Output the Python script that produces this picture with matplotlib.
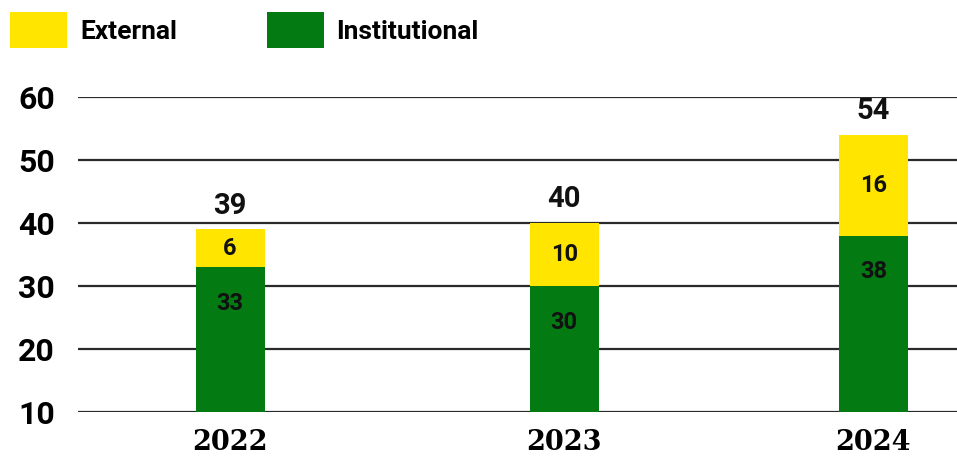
import matplotlib
matplotlib.use("Agg")
import matplotlib.pyplot as plt
from matplotlib.patches import Patch

years = ["2022", "2023", "2024"]
institutional = [33, 30, 38]
external = [6, 10, 16]
totals = [39, 40, 54]
yticks = [10, 20, 30, 40, 50, 60]

GREEN = "#037A12"
YELLOW = "#FFE500"

fig = plt.figure(figsize=(9.57, 4.59), dpi=100)
ax = fig.add_axes([0.0815, 0.1024, 0.9185, 0.6863])

# slightly uneven category spacing as in the reference layout
x = [0, 1.039, 2]
w = 0.215
ax.bar(x, institutional, width=w, color=GREEN, zorder=3)
ax.bar(x, external, width=w, bottom=institutional, color=YELLOW, zorder=3)

ax.set_ylim(10, 60)
ax.set_xlim(-0.473, 2.26)
ax.set_yticks(yticks)
ax.set_yticklabels([str(t) for t in yticks], fontfamily="Roboto", fontweight="bold", fontsize=23)
ax.set_xticks(x)
ax.set_xticklabels(years, fontfamily="DejaVu Serif", fontweight="bold", fontsize=19.5)
ax.tick_params(axis="both", length=0)
ax.tick_params(axis="y", pad=16.5)
ax.tick_params(axis="x", pad=12)
ax.yaxis.grid(True, color="#2a2a2a", linewidth=1.6, zorder=1)
for s in ax.spines.values():
    s.set_visible(False)

for xi, g, e, t in zip(x, institutional, external, totals):
    ax.annotate(str(g), (xi, g), xytext=(0, -26), textcoords="offset points",
                ha="center", va="center", fontfamily="Roboto", fontweight="bold",
                fontsize=17, color="#111111", zorder=4)
    ax.text(xi, g + e / 2, str(e), ha="center", va="center", fontfamily="Roboto",
            fontweight="bold", fontsize=17, color="#111111", zorder=4)
    ax.annotate(str(t), (xi, g + e), xytext=(0, 17), textcoords="offset points",
                ha="center", va="center", fontfamily="Roboto", fontweight="bold",
                fontsize=21, color="#111111", annotation_clip=False, zorder=4)

handles = [Patch(facecolor=YELLOW, edgecolor="none"), Patch(facecolor=GREEN, edgecolor="none")]
fig.legend(handles, ["External", "Institutional"], loc="upper left",
           bbox_to_anchor=(10 / 957, 1 - 12 / 459), ncol=2, frameon=False,
           borderpad=0, borderaxespad=0,
           prop={"family": "Roboto", "weight": "bold", "size": 19},
           handlelength=2.16, handleheight=1.75, handletextpad=0.49, columnspacing=3.4)

fig.savefig("out.png", dpi=100, facecolor="white")
